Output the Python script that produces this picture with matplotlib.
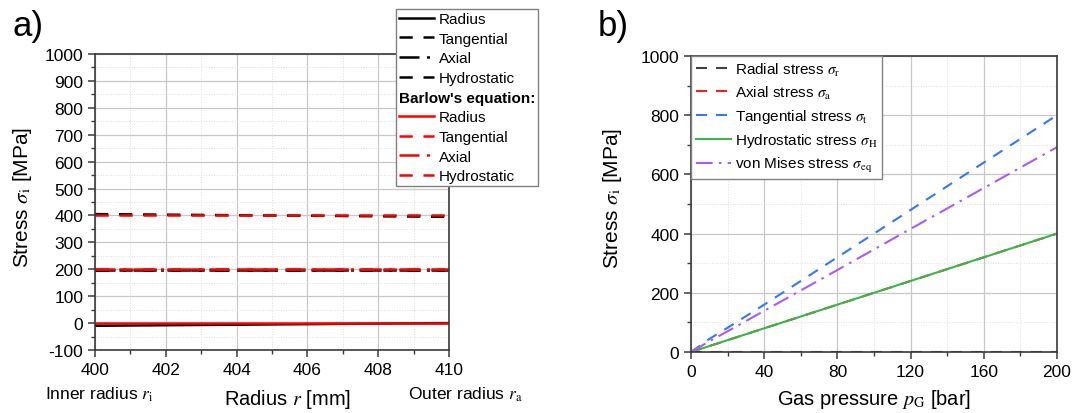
import matplotlib
matplotlib.use("Agg")
import matplotlib.pyplot as plt
from matplotlib.lines import Line2D

plt.rcParams["font.family"] = ["Liberation Sans", "DejaVu Sans"]
plt.rcParams["mathtext.fontset"] = "stix"
plt.rcParams["axes.unicode_minus"] = False

# panel a) - stresses over the wall, Lame vs Barlow
radius = [400, 402, 404, 406, 408, 410]
lame_radial = [-10.0, -7.9, -5.9, -3.9, -1.9, 0.0]
lame_tang = [405.0, 402.9, 400.9, 398.9, 396.9, 395.0]
lame_axial = [197.5, 197.5, 197.5, 197.5, 197.5, 197.5]
lame_hydro = [197.5, 197.5, 197.5, 197.5, 197.5, 197.5]
barlow_radial = [0, 0, 0, 0, 0, 0]
barlow_tang = [400, 400, 400, 400, 400, 400]
barlow_axial = [200, 200, 200, 200, 200, 200]
barlow_hydro = [200, 200, 200, 200, 200, 200]

# panel b) - stresses over gas pressure
pressure = [0, 5, 10, 20, 40, 80, 120, 160, 200]
sig_radial = [0, 0, 0, 0, 0, 0, 0, 0, 0]
sig_axial = [0, 10, 20, 40, 80, 160, 240, 320, 400]
sig_tang = [0, 22, 44, 82, 160, 320, 480, 640, 800]
sig_hydro = [0, 10, 20, 40, 80, 160, 240, 320, 400]
sig_vm = [0, 18, 36, 70, 139, 277, 416, 554, 692]

DASH = (0, (5.3, 4.3))
DASHDOT = (0, (8, 3, 1.2, 3))
SPINE = "#3a3a3a"

fig = plt.figure(figsize=(10.74, 4.14), dpi=100)
ax1 = fig.add_axes([95 / 1074, 63 / 414, 354 / 1074, 296 / 414])
ax2 = fig.add_axes([691 / 1074, 61 / 414, 366 / 1074, 296 / 414])


def style(ax):
    for s in ax.spines.values():
        s.set_color(SPINE)
        s.set_linewidth(1.2)
    ax.tick_params(which="both", direction="out", color=SPINE, labelsize=12.5,
                   top=False, right=False)
    ax.tick_params(which="major", length=5, width=1.1)
    ax.tick_params(which="minor", length=3, width=1.0)
    ax.grid(True, which="major", color="#c8c8c8", lw=0.9, ls="-")
    ax.grid(True, which="minor", color="#dddddd", lw=0.7, ls=":")
    ax.set_axisbelow(True)


# ---- a)
ax1.plot(radius, lame_radial, color="k", lw=1.8, ls="-")
ax1.plot(radius, lame_tang, color="k", lw=1.8, ls=DASH)
ax1.plot(radius, lame_axial, color="k", lw=1.8, ls=DASHDOT)
ax1.plot(radius, lame_hydro, color="k", lw=1.8, ls=DASH)
ax1.plot(radius, barlow_radial, color="red", lw=1.8, ls="-")
ax1.plot(radius, barlow_tang, color="red", lw=1.8, ls=DASH)
ax1.plot(radius, barlow_axial, color="red", lw=1.8, ls=DASHDOT)
ax1.plot(radius, barlow_hydro, color="red", lw=1.8, ls=DASH)
ax1.set_xlim(400, 410)
ax1.set_ylim(-100, 1000)
ax1.set_xticks(range(400, 411, 2))
ax1.set_xticks(range(400, 411, 1), minor=True)
ax1.set_yticks(range(-100, 1001, 100))
ax1.set_yticks(range(-100, 1001, 50), minor=True)
style(ax1)
fig.text(22 / 1074, 1 - 197 / 414, r"Stress $\sigma_\mathrm{i}$ [MPa]", fontsize=15,
         rotation=90, ha="center", va="center")

handles = [
    Line2D([], [], color="k", lw=1.8, ls="-"),
    Line2D([], [], color="k", lw=1.8, ls=DASH),
    Line2D([], [], color="k", lw=1.8, ls=DASHDOT),
    Line2D([], [], color="k", lw=1.8, ls=DASH),
    Line2D([], [], color="none"),
    Line2D([], [], color="red", lw=1.8, ls="-"),
    Line2D([], [], color="red", lw=1.8, ls=DASH),
    Line2D([], [], color="red", lw=1.8, ls=DASHDOT),
    Line2D([], [], color="red", lw=1.8, ls=DASH),
]
names = ["Radius", "Tangential", "Axial", "Hydrostatic", "Barlow's equation:",
         "Radius", "Tangential", "Axial", "Hydrostatic"]
leg1 = fig.legend(handles, names, loc="upper left",
                  bbox_to_anchor=(396 / 1074, 1 - 10 / 414),
                  fontsize=11, handlelength=2.3, handletextpad=0.3,
                  labelspacing=0.37, borderpad=0.2, borderaxespad=0,
                  fancybox=False, edgecolor="#808080", framealpha=1)
leg1.get_frame().set_linewidth(1.0)
leg1.get_texts()[4].set_fontweight("bold")
# header row without handle
row = leg1._legend_handle_box.get_children()[0].get_children()[4]
row.get_children()[0].width = 0
row.sep = 0

fig.text(45 / 1074, 1 - 400 / 414, r"Inner radius $r_\mathrm{i}$", fontsize=12.5,
         ha="left", va="baseline")
fig.text(523 / 1074, 1 - 400 / 414, r"Outer radius $r_\mathrm{a}$", fontsize=12.5,
         ha="right", va="baseline")
fig.text(288 / 1074, 1 - 405 / 414, r"Radius $r$ [mm]", fontsize=14.5,
         ha="center", va="baseline")
fig.text(13 / 1074, 1 - 36 / 414, "a)", fontsize=25, ha="left", va="baseline")

# ---- b)
ax2.plot(pressure, sig_radial, color="#404040", lw=1.5, ls=DASH,
         label=r"Radial stress $\sigma_\mathrm{r}$")
ax2.plot(pressure, sig_axial, color="#ee2222", lw=1.5, ls=DASH,
         label=r"Axial stress $\sigma_\mathrm{a}$")
ax2.plot(pressure, sig_tang, color="#3578f0", lw=1.5, ls=DASH,
         label=r"Tangential stress $\sigma_\mathrm{t}$")
ax2.plot(pressure, sig_hydro, color="#3cb44b", lw=1.5, ls="-",
         label=r"Hydrostatic stress $\sigma_\mathrm{H}$")
ax2.plot(pressure, sig_vm, color="#a85cf0", lw=1.5, ls=DASHDOT,
         label=r"von Mises stress $\sigma_\mathrm{eq}$")
ax2.set_xlim(0, 200)
ax2.set_ylim(0, 1000)
ax2.set_xticks(range(0, 201, 40))
ax2.set_xticks(range(0, 201, 20), minor=True)
ax2.set_yticks(range(0, 1001, 200))
ax2.set_yticks(range(0, 1001, 100), minor=True)
style(ax2)
fig.text(613 / 1074, 1 - 198 / 414, r"Stress $\sigma_\mathrm{i}$ [MPa]", fontsize=15,
         rotation=90, ha="center", va="center")
fig.text(874 / 1074, 1 - 405 / 414, r"Gas pressure $p_\mathrm{G}$ [bar]", fontsize=14.5,
         ha="center", va="baseline")
leg2 = ax2.legend(loc="upper left", fontsize=11, handlelength=2.3,
                  handletextpad=0.3, labelspacing=0.4, borderpad=0.3,
                  borderaxespad=0, fancybox=False, edgecolor="#808080",
                  framealpha=1)
leg2.get_frame().set_linewidth(1.0)
fig.text(598 / 1074, 1 - 36 / 414, "b)", fontsize=25, ha="left", va="baseline")

fig.savefig("out.png", dpi=100)
